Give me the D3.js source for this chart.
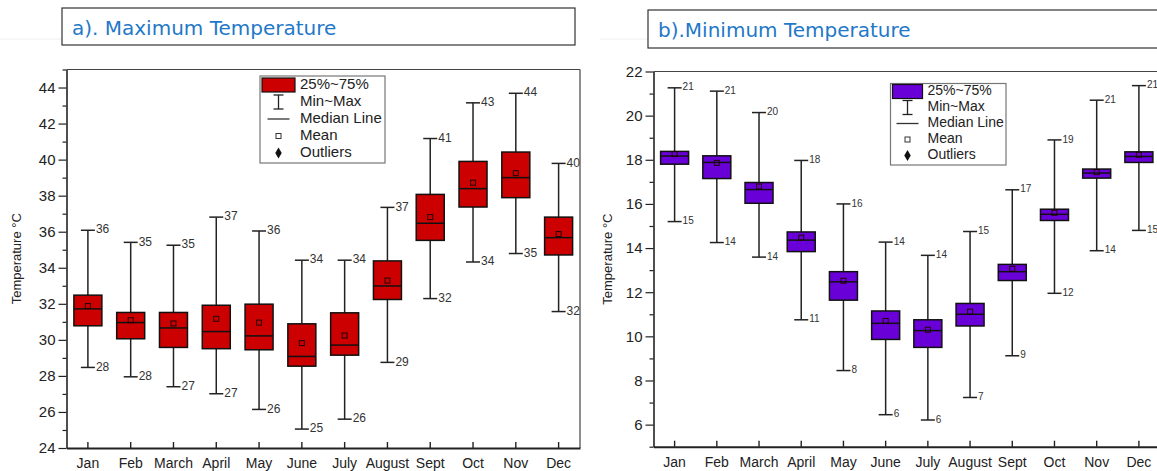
<!DOCTYPE html>
<html><head><meta charset="utf-8">
<script src="https://cdn.jsdelivr.net/npm/d3@7"></script>
<style>body{margin:0;background:#fff}svg{display:block}</style>
</head><body><svg id="c" width="1157" height="471"></svg>
<script>
const months = ["Jan","Feb","March","April","May","June","July","August","Sept","Oct","Nov","Dec"];

// a) Maximum temperature
const tmaxMax    = [36.08,35.41,35.25,36.81,36.04,34.42,34.42,37.35,41.17,43.15,43.68,39.79];
const tmaxQ3     = [32.48,31.52,31.52,31.92,31.98,30.89,31.50,34.38,38.07,39.90,40.42,36.81];
const tmaxMedian = [31.72,30.96,30.66,30.46,30.22,29.08,29.71,32.99,36.47,38.39,39.00,35.67];
const tmaxMean   = [31.88,31.09,30.91,31.17,30.96,29.82,30.24,33.29,36.81,38.72,39.25,35.87];
const tmaxQ1     = [30.78,30.06,29.58,29.51,29.45,28.54,29.15,32.24,35.52,37.37,37.89,34.71];
const tmaxMin    = [28.47,27.95,27.40,27.01,26.14,25.05,25.60,28.75,32.29,34.32,34.79,31.57];
const tmaxTicks  = [24,26,28,30,32,34,36,38,40,42,44];

// b) Minimum temperature
const tminMax    = [21.26,21.11,20.14,17.97,16.00,14.27,13.67,14.75,16.64,18.90,20.70,21.36];
const tminQ3     = [18.38,18.18,16.97,14.73,12.93,11.15,10.75,11.49,13.26,15.76,17.58,18.36];
const tminMedian = [18.17,17.88,16.65,14.36,12.47,10.59,10.26,11.00,12.93,15.53,17.40,18.15];
const tminMean   = [18.26,17.86,16.79,14.47,12.52,10.70,10.30,11.12,13.06,15.60,17.44,18.23];
const tminQ1     = [17.80,17.15,16.03,13.84,11.64,9.86,9.50,10.47,12.53,15.25,17.17,17.88];
const tminMin    = [15.20,14.25,13.59,10.75,8.45,6.45,6.21,7.23,9.12,11.95,13.88,14.80];
const tminTicks  = [6,8,10,12,14,16,18,20,22];

const legendLabels = ["25%~75%","Min~Max","Median Line","Mean","Outliers"];
const yLabel = "Temperature \u00B0C";

const svg = d3.select("#c");
const FONT = "'Liberation Sans', Arial, sans-serif";

function panel(cfg) {
  const g = svg.append("g");
  // title box
  g.append("rect").attr("x", cfg.title.x).attr("y", cfg.title.y).attr("width", cfg.title.w).attr("height", cfg.title.h)
    .attr("fill","#fff").attr("stroke","#333").attr("stroke-width",1.2);
  g.append("text").attr("x", cfg.title.x + 10).attr("y", cfg.title.y + 27)
    .attr("font-family","'DejaVu Sans', Verdana, sans-serif").attr("font-size",20).attr("fill","#1f78c8")
    .text(cfg.title.text);

  const x = d3.scaleBand().domain(months).range([cfg.x0, cfg.x1]);
  const y = d3.scaleLinear().domain(cfg.domain).range([cfg.yBot, cfg.yTop]);
  const cx = m => x(m) + x.bandwidth()/2;

  // frame top and right
  g.append("line").attr("x1", cfg.x0).attr("x2", cfg.x1).attr("y1", cfg.yTop).attr("y2", cfg.yTop).attr("stroke","#444").attr("stroke-width",1.2);
  g.append("line").attr("x1", cfg.x1).attr("x2", cfg.x1).attr("y1", cfg.yTop).attr("y2", cfg.yBot).attr("stroke","#444").attr("stroke-width",1.2);

  // y axis
  const minor = d3.range(cfg.domain[0], cfg.domain[1] + 0.001, 1).filter(v => !cfg.ticks.includes(v));
  const yMinor = g.append("g").attr("transform", `translate(${cfg.x0},0)`)
    .call(d3.axisLeft(y).tickValues(minor).tickSize(4).tickFormat(""));
  yMinor.select(".domain").remove();
  yMinor.selectAll("line").attr("stroke","#222").attr("stroke-width",1.2);
  const yAx = g.append("g").attr("transform", `translate(${cfg.x0},0)`)
    .call(d3.axisLeft(y).tickValues(cfg.ticks).tickSize(8).tickPadding(3).tickSizeOuter(0));
  yAx.select(".domain").attr("stroke","#222").attr("stroke-width",1.6);
  yAx.selectAll("line").attr("stroke","#222").attr("stroke-width",1.2);
  yAx.selectAll("text").attr("font-family",FONT).attr("font-size",15).attr("fill","#222");

  // x axis
  const xAx = g.append("g").attr("transform", `translate(0,${cfg.yBot})`)
    .call(d3.axisBottom(x).tickSize(-6).tickPadding(10).tickSizeOuter(0));
  xAx.select(".domain").attr("stroke","#222").attr("stroke-width",2);
  xAx.selectAll("line").attr("stroke","#222").attr("stroke-width",1.4);
  xAx.selectAll("text").attr("font-family",FONT).attr("font-size",14).attr("fill","#222");

  // y label
  g.append("text").attr("transform", `translate(${cfg.yLabelX},${(cfg.yTop+cfg.yBot)/2}) rotate(-90)`)
    .attr("text-anchor","middle").attr("dominant-baseline","middle")
    .attr("font-family",FONT).attr("font-size",13).attr("fill","#222").text(yLabel);

  const d = cfg.data;
  const idx = d3.range(months.length);
  const bw = 28, cap = 7;
  const wh = g.append("g").attr("stroke","#222").attr("stroke-width",1.5);
  idx.forEach(i => {
    const c = cx(months[i]);
    wh.append("line").attr("x1",c).attr("x2",c).attr("y1",y(d.max[i])).attr("y2",y(d.min[i]));
    wh.append("line").attr("x1",c-cap).attr("x2",c+cap).attr("y1",y(d.max[i])).attr("y2",y(d.max[i]));
    wh.append("line").attr("x1",c-cap).attr("x2",c+cap).attr("y1",y(d.min[i])).attr("y2",y(d.min[i]));
  });
  g.append("g").selectAll("rect").data(idx).join("rect")
    .attr("x", i => cx(months[i]) - bw/2).attr("width", bw)
    .attr("y", i => y(d.q3[i])).attr("height", i => y(d.q1[i]) - y(d.q3[i]))
    .attr("fill", cfg.color).attr("stroke","#111").attr("stroke-width",1.5);
  g.append("g").selectAll("line").data(idx).join("line")
    .attr("x1", i => cx(months[i]) - bw/2).attr("x2", i => cx(months[i]) + bw/2)
    .attr("y1", i => y(d.median[i])).attr("y2", i => y(d.median[i]))
    .attr("stroke","#111").attr("stroke-width",1.5);
  g.append("g").selectAll("rect").data(idx).join("rect")
    .attr("x", i => cx(months[i]) - 2.5).attr("y", i => y(d.mean[i]) - 2.5)
    .attr("width",5).attr("height",5).attr("fill","none").attr("stroke","#220000").attr("stroke-width",1);
  // value labels
  const lab = g.append("g").attr("font-family",FONT).attr("font-size",cfg.labelSize).attr("fill","#333")
    .attr("dominant-baseline","middle");
  idx.forEach(i => {
    const c = cx(months[i]);
    lab.append("text").attr("x", c + cap + 1).attr("y", y(d.max[i])).text(Math.round(d.max[i]));
    lab.append("text").attr("x", c + cap + 1).attr("y", y(d.min[i])).text(Math.round(d.min[i]));
  });

  // legend
  const L = cfg.legend;
  const lg = g.append("g");
  lg.append("rect").attr("x",L.x).attr("y",L.y).attr("width",L.w).attr("height",L.h)
    .attr("fill","#fff").attr("stroke","#777").attr("stroke-width",1.2);
  const sx = L.x + 2, sw = L.sw, mid = sx + sw/2;
  const rowY = k => L.y + L.first + k*L.step;
  lg.append("rect").attr("x",sx).attr("y",rowY(0)-7).attr("width",sw).attr("height",14)
    .attr("fill",cfg.color).attr("stroke","#111").attr("stroke-width",1.2);
  lg.append("line").attr("x1",mid).attr("x2",mid).attr("y1",rowY(1)-7).attr("y2",rowY(1)+7).attr("stroke","#222").attr("stroke-width",1.3);
  lg.append("line").attr("x1",mid-5).attr("x2",mid+5).attr("y1",rowY(1)-7).attr("y2",rowY(1)-7).attr("stroke","#222").attr("stroke-width",1.3);
  lg.append("line").attr("x1",mid-5).attr("x2",mid+5).attr("y1",rowY(1)+7).attr("y2",rowY(1)+7).attr("stroke","#222").attr("stroke-width",1.3);
  lg.append("line").attr("x1",mid-11).attr("x2",mid+11).attr("y1",rowY(2)).attr("y2",rowY(2)).attr("stroke","#333").attr("stroke-width",1.3);
  lg.append("rect").attr("x",mid-2.5).attr("y",rowY(3)-2.5).attr("width",5).attr("height",5).attr("fill","#fff").attr("stroke","#333").attr("stroke-width",1);
  lg.append("path").attr("d", d3.symbol(d3.symbolDiamond, 36)()).attr("transform",`translate(${mid},${rowY(4)})`).attr("fill","#111");
  legendLabels.forEach((t,k) => {
    lg.append("text").attr("x", sx + sw + 5).attr("y", rowY(k)).attr("dominant-baseline","middle")
      .attr("font-family",FONT).attr("font-size",L.fs).attr("fill","#222").text(t);
  });
}

// faint page guides
svg.append("line").attr("x1",0).attr("x2",62).attr("y1",39).attr("y2",39).attr("stroke","#eee");
svg.append("line").attr("x1",600).attr("x2",648).attr("y1",39).attr("y2",39).attr("stroke","#eee");

panel({
  title:{x:62,y:8,w:513,h:37,text:"a). Maximum Temperature"},
  x0:66.5, x1:580, yTop:69.5, yBot:448, domain:[24,45], ticks:tmaxTicks, yLabelX:18,
  color:"#cc0000", labelSize:12,
  data:{max:tmaxMax,q3:tmaxQ3,median:tmaxMedian,mean:tmaxMean,q1:tmaxQ1,min:tmaxMin},
  legend:{x:260,y:76,w:125,h:87,sw:33,first:9,step:17,fs:15}
});
panel({
  title:{x:648,y:10,w:520,h:38,text:"b).Minimum Temperature"},
  x0:653.5, x1:1160, yTop:71.5, yBot:446.7, domain:[5,22], ticks:tminTicks, yLabelX:609,
  color:"#6a00d8", labelSize:10,
  data:{max:tminMax,q3:tminQ3,median:tminMedian,mean:tminMean,q1:tminQ1,min:tminMin},
  legend:{x:890.5,y:83.5,w:115.5,h:81.5,sw:30,first:8,step:16,fs:14}
});
</script></body></html>
